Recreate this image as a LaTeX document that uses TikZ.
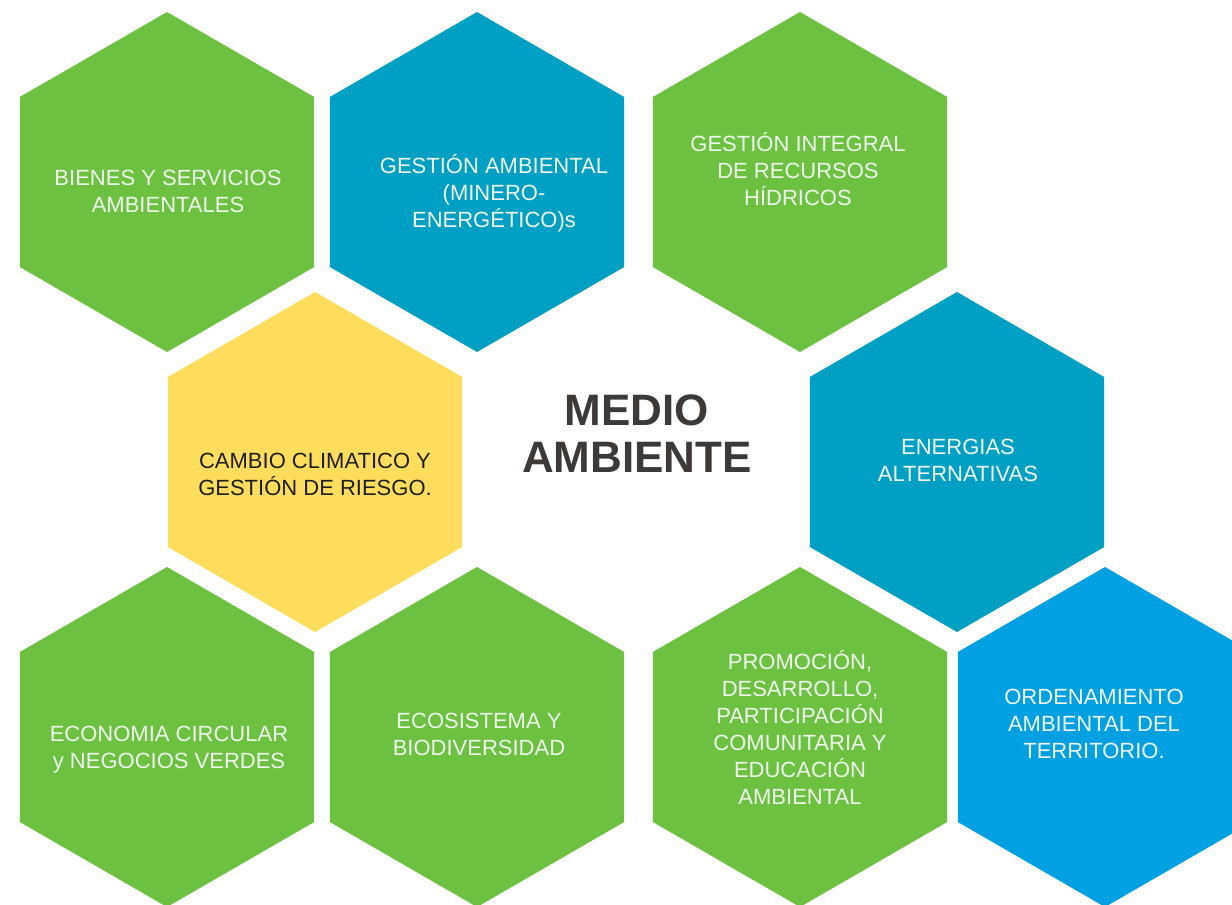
\documentclass[tikz,border=0pt]{standalone}
\usepackage{fontspec}
\setmainfont{Liberation Sans}
\usetikzlibrary{shapes.geometric}
\definecolor{hexgreen}{RGB}{108,194,64}
\definecolor{hexteal}{RGB}{0,160,196}
\definecolor{hexblue}{RGB}{0,160,227}
\definecolor{hexyellow}{RGB}{255,221,92}
\definecolor{labelwhite}{RGB}{240,246,238}
\definecolor{labeldark}{RGB}{30,30,30}
\definecolor{titlegray}{RGB}{60,57,54}

\begin{document}
\begin{tikzpicture}[x=1pt,y=-1pt,
    hexa/.style={regular polygon,regular polygon sides=6,shape border rotate=30,
        minimum size=340pt,inner sep=0pt,outer sep=0pt,draw=none},
    hextext/.style={align=center,font=\fontsize{22}{27}\selectfont,
        text=labelwhite,inner sep=0pt}]
  \useasboundingbox (0,0) rectangle (1232,905);
  \fill[white] (0,0) rectangle (1232,905);
  \clip (0,0) rectangle (1232,905);
  % hexagons
  \node[hexa,fill=hexgreen]  (hexBienes)   at (167,182) {};
  \node[hexa,fill=hexteal]   (hexGestion)  at (477,182) {};
  \node[hexa,fill=hexgreen]  (hexRecursos) at (800,182) {};
  \node[hexa,fill=hexyellow] (hexCambio)   at (315,462) {};
  \node[hexa,fill=hexteal]   (hexEnergias) at (957,462) {};
  \node[hexa,fill=hexgreen]  (hexEconomia) at (167,737) {};
  \node[hexa,fill=hexgreen]  (hexEcosist)  at (477,737) {};
  \node[hexa,fill=hexgreen]  (hexPromo)    at (800,737) {};
  \node[hexa,fill=hexblue]   (hexOrden)    at (1105,737) {};
  % labels
  \node[hextext] (bienes)    at ([shift={(1,9)}]hexBienes.center) {BIENES Y SERVICIOS\\AMBIENTALES};
  \node[hextext] (gestion)   at ([shift={(17,11)}]hexGestion.center) {GESTIÓN AMBIENTAL\\(MINERO-\\ENERGÉTICO)s};
  \node[hextext] (recursos)  at ([shift={(-2,-13)}]hexRecursos.center) {GESTIÓN INTEGRAL\\DE RECURSOS\\HÍDRICOS};
  \node[hextext,text=labeldark] (cambio) at ([shift={(0,12)}]hexCambio.center) {CAMBIO CLIMATICO Y\\GESTIÓN DE RIESGO.};
  \node[hextext] (energias)  at ([shift={(1,-2)}]hexEnergias.center) {ENERGIAS\\ALTERNATIVAS};
  \node[hextext] (economia)  at ([shift={(2,13)}]hexEconomia.center) {ECONOMIA CIRCULAR\\y NEGOCIOS VERDES};
  \node[hextext] (ecosist)   at ([shift={(2,-3)}]hexEcosist.center) {ECOSISTEMA Y\\BIODIVERSIDAD};
  \node[hextext] (promo)     at ([shift={(0,-10)}]hexPromo.center) {PROMOCIÓN,\\DESARROLLO,\\PARTICIPACIÓN\\COMUNITARIA Y\\EDUCACIÓN\\AMBIENTAL};
  \node[hextext] (orden)     at ([shift={(-11,-13)}]hexOrden.center) {ORDENAMIENTO\\AMBIENTAL DEL\\TERRITORIO.};
  % title
  \node[align=center,font=\fontsize{44}{47}\selectfont\bfseries,text=titlegray,inner sep=0pt]
    (titulo) at (637,434) {MEDIO\\AMBIENTE};
\end{tikzpicture}
\end{document}
